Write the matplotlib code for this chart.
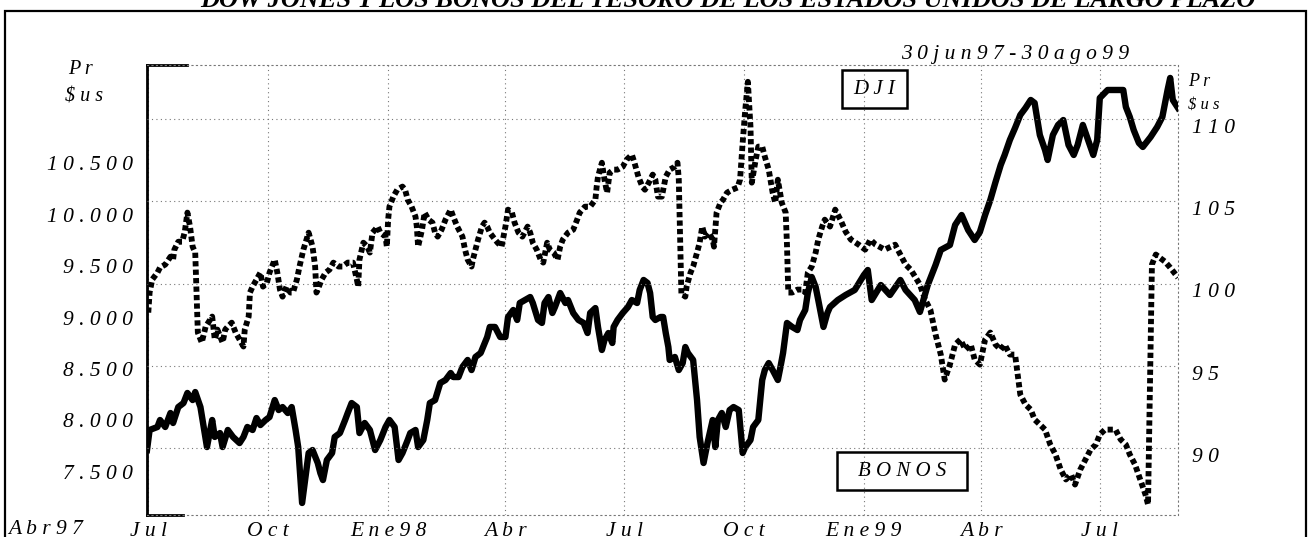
import numpy as np
import pandas as pd
import matplotlib
matplotlib.use("Agg")
import matplotlib.pyplot as plt
import matplotlib.transforms as mtransforms
from matplotlib.patches import Rectangle

# Dow Jones (left axis), days counted from 30jun97
dji_day = [0, 2, 8, 10, 14, 18, 20, 24, 28, 31, 35, 37, 41, 43, 46, 50, 52, 56, 58, 62,
           66, 71, 74, 77, 81, 84, 87, 91, 94, 98, 101, 104, 108, 111, 114, 116, 119, 121, 124, 127,
           131, 133, 135, 138, 142, 144, 148, 152, 154, 157, 161, 163, 167, 171, 175, 179, 183, 186, 190, 193,
           196, 200, 202, 206, 208, 212, 215, 217, 221, 225, 229, 233, 235, 239, 242, 246, 249, 252, 256, 261,
           263, 267, 271, 275, 277, 281, 284, 286, 290, 294, 296, 300, 303, 305, 308, 311, 313, 317, 321, 323,
           327, 331, 335, 338, 340, 344, 346, 349, 351, 354, 357, 358, 361, 365, 369, 372, 376, 378, 381, 384,
           386, 388, 390, 394, 396, 398, 400, 401, 405, 408, 411, 413, 415, 419, 422, 424, 427, 430, 434, 436,
           438, 441, 444, 447, 450, 454, 457, 459, 463, 465, 469, 472, 474, 477, 480, 484, 486, 488, 491, 495,
           499, 501, 505, 507, 510, 513, 515, 519, 522, 524, 530, 536, 543, 550, 553, 556, 563, 570, 578, 582,
           589, 593, 599, 605, 609, 616, 620, 625, 630, 635, 639, 643, 647, 651, 655, 658, 662, 666, 670, 674,
           678, 681, 685, 689, 691, 695, 699, 703, 707, 711, 714, 718, 722, 726, 729, 731, 737, 743, 749, 751,
           754, 757, 761, 764, 770, 775, 779, 783, 785, 787, 791]
dji_val = [7711, 7906, 7935, 8003, 7935, 8071, 7974, 8129, 8168, 8266, 8197, 8275, 8129, 7974, 7740, 8003, 7838, 7876, 7740, 7906,
           7838, 7779, 7838, 7935, 7906, 8022, 7954, 8003, 8032, 8197, 8100, 8129, 8071, 8129, 7906, 7740, 7196, 7390, 7682, 7711,
           7585, 7487, 7419, 7614, 7682, 7838, 7876, 8003, 8071, 8168, 8129, 7876, 7974, 7906, 7711, 7808, 7935, 8003, 7935, 7614,
           7682, 7808, 7876, 7906, 7740, 7808, 8003, 8168, 8197, 8363, 8392, 8460, 8421, 8421, 8519, 8587, 8489, 8616, 8655, 8810,
           8908, 8908, 8810, 8810, 9005, 9073, 8976, 9141, 9170, 9199, 9141, 8976, 8947, 9141, 9199, 9044, 9102, 9238, 9141, 9170,
           9044, 8976, 8947, 8849, 9044, 9092, 8908, 8684, 8781, 8849, 8752, 8908, 8976, 9044, 9102, 9170, 9141, 9268, 9365, 9336,
           9238, 9005, 8976, 9005, 9005, 8849, 8713, 8587, 8616, 8489, 8557, 8713, 8655, 8587, 8197, 7838, 7585, 7779, 8003, 7740,
           8003, 8071, 7935, 8100, 8129, 8100, 7682, 7740, 7808, 7935, 8003, 8392, 8489, 8557, 8489, 8392, 8519, 8655, 8947, 8908,
           8878, 8976, 9073, 9238, 9394, 9297, 9170, 8908, 9044, 9102, 9170, 9219, 9268, 9413, 9462, 9170, 9316, 9219, 9365, 9268,
           9170, 9054, 9316, 9511, 9657, 9705, 9900, 9997, 9851, 9754, 9832, 9997, 10143, 10318, 10484, 10581, 10727, 10844, 10970, 11038,
           11116, 11087, 10775, 10629, 10532, 10775, 10873, 10921, 10678, 10581, 10678, 10873, 10727, 10581, 10727, 11135, 11213, 11213, 11213, 11048,
           10951, 10824, 10698, 10659, 10756, 10853, 10951, 11213, 11330, 11116, 11038]

# Long-term US Treasury bond price (right axis)
bond_day = [1, 2, 4, 8, 10, 14, 18, 20, 21, 24, 27, 29, 31, 33, 35, 37, 38, 39, 42, 45,
            47, 50, 52, 54, 58, 60, 62, 65, 68, 71, 74, 75, 78, 79, 81, 84, 87, 89, 92, 94,
            98, 100, 102, 104, 107, 110, 112, 115, 117, 120, 124, 127, 129, 130, 131, 134, 137, 140, 143, 147,
            150, 154, 158, 161, 162, 163, 166, 169, 171, 173, 177, 179, 183, 184, 185, 186, 189, 192, 196, 198,
            200, 203, 206, 207, 208, 211, 213, 216, 219, 221, 223, 226, 229, 233, 235, 238, 242, 244, 246, 249,
            250, 252, 254, 257, 259, 261, 263, 267, 269, 272, 275, 277, 280, 282, 285, 288, 292, 294, 296, 299,
            302, 304, 307, 309, 312, 315, 317, 319, 323, 327, 330, 332, 336, 340, 344, 345, 346, 349, 351, 353,
            355, 358, 361, 365, 368, 372, 374, 377, 380, 382, 385, 388, 390, 392, 395, 398, 401, 405, 407, 408,
            410, 411, 413, 414, 417, 419, 422, 424, 426, 428, 431, 434, 435, 436, 437, 440, 442, 445, 449, 453,
            455, 457, 459, 461, 463, 464, 467, 469, 472, 474, 477, 480, 482, 484, 487, 490, 491, 492, 495, 499,
            503, 505, 507, 510, 513, 515, 518, 520, 524, 528, 532, 536, 540, 546, 551, 555, 559, 566, 574, 578,
            582, 586, 593, 597, 601, 605, 609, 612, 616, 620, 624, 628, 632, 635, 639, 643, 647, 651, 655, 658,
            662, 666, 670, 674, 678, 681, 685, 689, 693, 697, 701, 705, 709, 712, 716, 720, 724, 728, 731, 735,
            739, 743, 747, 751, 754, 758, 762, 766, 768, 771, 774, 777, 781, 785, 791]
bond_val = [98.23, 99.45, 100.24, 100.66, 100.97, 101.15, 101.63, 101.45, 102.06, 102.54, 102.54, 103.15, 104.31, 103.46, 102.24, 101.88, 99.45, 97.02, 96.41, 97.38,
            97.62, 97.99, 96.59, 97.20, 96.41, 97.20, 97.38, 97.62, 97.02, 96.59, 96.17, 97.20, 97.99, 99.45, 99.81, 100.24, 100.66, 99.81, 100.05, 100.66,
            101.45, 100.66, 99.63, 99.20, 99.81, 99.45, 99.45, 100.24, 101.03, 102.06, 103.09, 102.24, 101.03, 99.45, 99.63, 100.24, 100.66, 100.84, 101.27, 101.03,
            101.03, 101.27, 101.27, 100.24, 99.81, 101.45, 102.48, 102.24, 101.88, 103.09, 103.46, 103.09, 102.85, 102.24, 103.88, 104.67, 105.28, 105.70, 105.89, 105.70,
            105.10, 104.67, 104.06, 103.46, 102.24, 103.27, 104.31, 103.88, 103.70, 103.09, 102.85, 103.27, 103.88, 104.49, 104.06, 103.46, 102.85, 102.06, 101.45, 101.03,
            101.45, 102.06, 102.67, 103.46, 103.70, 103.46, 103.09, 102.67, 102.48, 102.24, 103.46, 104.49, 104.31, 103.70, 103.09, 102.85, 103.46, 103.09, 102.48, 102.06,
            101.45, 101.27, 102.48, 102.06, 101.88, 101.45, 102.24, 102.67, 103.09, 103.27, 103.88, 104.31, 104.67, 104.67, 105.10, 105.89, 106.49, 107.34, 106.31, 105.52,
            106.74, 106.92, 106.92, 107.10, 107.53, 107.83, 107.34, 106.49, 105.89, 105.70, 106.13, 106.62, 106.31, 105.28, 105.28, 106.49, 106.92, 107.10, 107.34, 106.31,
            99.33, 99.33, 99.20, 99.81, 100.66, 101.03, 101.88, 102.48, 103.46, 102.85, 103.09, 102.67, 102.24, 103.27, 104.31, 104.91, 105.10, 105.52, 105.70, 105.83,
            106.31, 108.56, 110.56, 112.26, 109.53, 106.13, 107.53, 108.32, 108.32, 107.71, 106.92, 105.52, 104.91, 106.31, 104.91, 104.31, 102.36, 99.45, 99.45, 99.63,
            99.63, 99.45, 100.66, 101.03, 101.88, 102.67, 103.46, 103.88, 103.46, 104.49, 103.88, 103.15, 102.67, 102.36, 102.06, 102.67, 102.36, 102.06, 102.36, 101.76,
            101.15, 100.84, 99.93, 99.02, 98.41, 96.90, 95.68, 94.16, 95.07, 96.29, 96.59, 95.98, 96.29, 95.38, 95.07, 96.59, 97.02, 96.29, 95.98, 96.29,
            95.68, 95.68, 93.25, 92.64, 92.34, 91.73, 91.43, 91.12, 90.21, 89.61, 88.69, 88.09, 88.39, 87.78, 88.69, 89.30, 89.91, 90.21, 90.82, 91.12,
            91.12, 91.12, 90.52, 90.21, 89.61, 89.00, 88.09, 87.18, 86.57, 101.15, 101.76, 101.57, 101.33, 100.97, 100.36]

dji_ticks = [7500, 8000, 8500, 9000, 9500, 10000, 10500]
bond_ticks = [90, 95, 100, 105, 110]
month_ticks = ["1997-07-01", "1997-10-01", "1998-01-01", "1998-04-01", "1998-07-01",
               "1998-10-01", "1999-01-01", "1999-04-01", "1999-07-01"]
month_labels = ["Jul", "Oct", "Ene98", "Abr", "Jul", "Oct", "Ene99", "Abr", "Jul"]
start = pd.Timestamp("1997-06-30")
end = pd.Timestamp("1999-08-30")

plt.rcParams["font.family"] = ["Liberation Serif", "DejaVu Serif"]
plt.rcParams["font.style"] = "italic"

W, H = 1309, 537


def fx(px):
    return px / W


def fy(py):
    return 1 - py / H


def sp(s):
    # the original prints its labels letter-spaced
    return " ".join(s)


fig = plt.figure(figsize=(W / 100, H / 100), dpi=100)
ax = fig.add_axes([fx(147), fy(515), fx(1178) - fx(147), fy(65) - fy(515)])
ax2 = ax.twinx()

dji_x = start + pd.to_timedelta(dji_day, unit="D")
bond_x = start + pd.to_timedelta(bond_day, unit="D")

ax.plot(dji_x, dji_val, color="black", lw=4.6, solid_joinstyle="round", zorder=3)
ax2.plot(bond_x, bond_val, color="black", lw=4.2, linestyle=(0, (0.9, 0.55)),
         dash_capstyle="butt", zorder=3)

ax.set_xlim(start, end)
ax.set_ylim(7079, 11456)
ax2.set_ylim(85.93, 113.28)

grid_kw = dict(color="#777777", lw=0.8, linestyle=(0, (1, 3)))
ax.set_xticks(pd.to_datetime(month_ticks))
ax.set_xticklabels([sp(m) for m in month_labels])
ax.xaxis.grid(True, **grid_kw)
ax.yaxis.grid(False)
ax2.yaxis.grid(True, **grid_kw)

ax.set_yticks(dji_ticks)
ax.set_yticklabels([sp(f"{v:,}".replace(",", ".")) for v in dji_ticks])
ax2.set_yticks(bond_ticks)
ax2.set_yticklabels([sp(str(v)) for v in bond_ticks])

ax.tick_params(axis="y", length=0, pad=10, labelsize=15.5)
ax.tick_params(axis="x", length=0, pad=5, labelsize=15.5)
ax2.tick_params(axis="y", length=0, pad=10, labelsize=15.5)

# right-hand numbers sit a little below their grid lines
shift = mtransforms.ScaledTranslation(0, -5 / 72, fig.dpi_scale_trans)
for lbl in ax2.get_yticklabels():
    lbl.set_transform(lbl.get_transform() + shift)

for name in ["top", "bottom", "right"]:
    ax.spines[name].set_linestyle((0, (1, 3)))
    ax.spines[name].set_color("#777777")
    ax.spines[name].set_linewidth(0.8)
ax.spines["left"].set_linewidth(2)
for s in ax2.spines.values():
    s.set_visible(False)

# short solid bracket ends at the left corners
ax.plot([0, 0.039], [1, 1], transform=ax.transAxes, color="black", lw=2, clip_on=False)
ax.plot([0, 0.035], [0, 0], transform=ax.transAxes, color="black", lw=2, clip_on=False)

# outer frame and texts
fig.add_artist(Rectangle((fx(5), fy(545)), fx(1306) - fx(5), fy(11) - fy(545),
                         transform=fig.transFigure, fill=False, lw=1.6, ec="black"))
fig.text(fx(728), fy(7), "DOW JONES Y LOS BONOS DEL TESORO DE LOS ESTADOS UNIDOS DE LARGO PLAZO",
         ha="center", va="baseline", fontsize=19, weight="bold")
fig.text(fx(901), fy(54), sp("30jun97-30ago99"), ha="left", va="center", fontsize=15.5)
fig.text(fx(68), fy(69), "P r", ha="left", va="center", fontsize=14.5)
fig.text(fx(65), fy(97), r"\$ u s", ha="left", va="center", fontsize=14.5)
fig.text(fx(1188), fy(81), "P r", ha="left", va="center", fontsize=13)
fig.text(fx(1188), fy(105), r"\$ u s", ha="left", va="center", fontsize=12)
fig.text(fx(8), fy(529), sp("Abr97"), ha="left", va="center", fontsize=15.5)

fig.add_artist(Rectangle((fx(842), fy(108)), fx(907) - fx(842), fy(70) - fy(108),
                         transform=fig.transFigure, fill=False, lw=1.8, ec="black"))
fig.text(fx(874.5), fy(89), sp("DJI"), ha="center", va="center", fontsize=15)
fig.add_artist(Rectangle((fx(837), fy(490)), fx(967) - fx(837), fy(452) - fy(490),
                         transform=fig.transFigure, fill=False, lw=1.8, ec="black"))
fig.text(fx(902), fy(471), sp("BONOS"), ha="center", va="center", fontsize=15)

fig.savefig("out.png", dpi=100)
